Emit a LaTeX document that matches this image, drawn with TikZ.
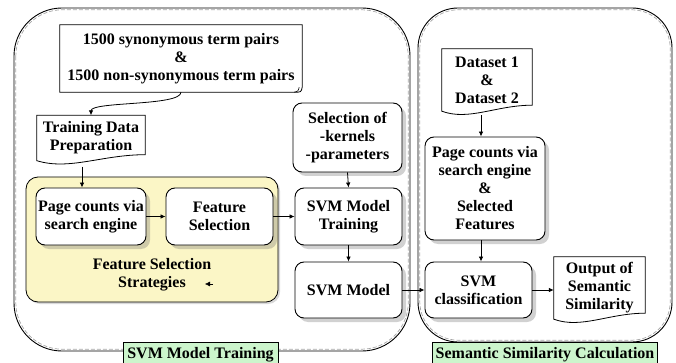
\documentclass[tikz,border=0pt]{standalone}
\usepackage{fontspec}
\setmainfont{Liberation Serif}
\usetikzlibrary{shadows,calc,arrows.meta}
\definecolor{yfill}{RGB}{251,246,198}
\definecolor{gfill}{RGB}{204,245,204}
\begin{document}
\begin{tikzpicture}[x=1pt,y=-1pt,
  font=\fontsize{16}{18}\selectfont\bfseries,
  rbox/.style={draw, line width=0.9pt, rounded corners=9pt, fill=white, align=center, inner sep=1pt,
    drop shadow={shadow xshift=4pt, shadow yshift=-4pt, opacity=0.3, fill=black!60}},
  docnode/.style={align=center, inner sep=1pt},
  docline/.style={draw, line width=0.8pt},
  conn/.style={line width=0.8pt, -{Latex[length=5pt,width=4.5pt]}},
  regionL/.style={draw, line width=0.9pt, rounded corners=48pt},
  regionLd/.style={draw, gray!70, line width=0.7pt, dash pattern=on 4pt off 2pt, rounded corners=46.5pt},
  regionR/.style={draw, line width=0.9pt, rounded corners=40pt},
  regionRd/.style={draw, gray!70, line width=0.7pt, dash pattern=on 4pt off 2pt, rounded corners=38.5pt},
  tag/.style={draw, line width=0.8pt, fill=gfill, anchor=north, minimum height=24pt, inner xsep=3pt}
]
\useasboundingbox (0,0) rectangle (676,363);

% outer regions
\draw[regionL] (14,8) rectangle (410,351);
\draw[regionLd] (15.8,9.8) rectangle (408.2,349.2);
\draw[regionR] (418,8) rectangle (672,342);
\draw[regionRd] (419.8,9.8) rectangle (670.2,340.2);

% yellow region
\node[draw, line width=0.8pt, fill=yfill, rounded corners=12pt, minimum width=252pt, minimum height=125pt,
  drop shadow={shadow xshift=2pt, shadow yshift=-2pt, opacity=0.25, fill=black!60}] (fss) at (152,239.5) {};
\node[align=center] (fsslabel) at (152,275) {Feature Selection\\Strategies};
\coordinate (tipA) at (213,284);
\coordinate (tipB) at (205,284);
\draw[line width=0.5pt, -{Latex[length=5pt,width=5pt]}] (tipA) -- (tipB);

% left document nodes
\node[docnode, minimum width=242pt, minimum height=67pt] (doc1) at (181,58.5)
  {1500 synonymous term pairs\\\&\\1500 non-synonymous term pairs};
\draw[docline] (doc1.north west) -- (doc1.north east) -- ($(doc1.south east)+(0,-5)$)
  .. controls ($(doc1.south east)+(-1,0)$) .. ($(doc1.south east)+(-8,0)$) -- (doc1.south west) -- cycle;
\draw[line width=0.6pt] ($(doc1.south east)+(-8,0)$) .. controls ($(doc1.south east)+(-4,-1)$) .. ($(doc1.south east)+(-3,-5)$);

\node[docnode, minimum width=108pt, minimum height=45pt] (tdp) at (91,138) {Training Data\\Preparation};
\draw[docline] (tdp.north west) -- (tdp.north east) -- ($(tdp.south east)+(0,-6)$)
  .. controls ($(tdp.south east)!0.4!(tdp.south west)+(0,-6)$) and ($(tdp.south east)!0.7!(tdp.south west)+(0,10)$)
  .. (tdp.south west) -- cycle;

% left process boxes
\node[rbox, minimum width=109pt, minimum height=69pt] (sel) at (347.5,137.5) {Selection of\\-kernels\\-parameters};
\node[rbox, minimum width=110pt, minimum height=57pt] (pc1) at (91,216.5) {Page counts via\\search engine};
\node[rbox, minimum width=107pt, minimum height=57pt] (fs) at (219.5,216.5) {Feature\\Selection};
\node[rbox, minimum width=107pt, minimum height=57pt] (smt) at (348.5,216.5) {SVM Model\\Training};
\node[rbox, minimum width=107pt, minimum height=56pt] (sm) at (348.5,290) {SVM Model};

% right side
\node[docnode, minimum width=90pt, minimum height=62pt] (ds) at (487,80) {Dataset 1\\\&\\Dataset 2};
\draw[docline] (ds.north west) -- (ds.north east) -- ($(ds.south east)+(0,-6)$)
  .. controls ($(ds.south east)!0.4!(ds.south west)+(0,-6)$) and ($(ds.south east)!0.7!(ds.south west)+(0,10)$)
  .. (ds.south west) -- cycle;
\node[rbox, minimum width=120pt, minimum height=103pt] (pc2) at (485,188.5)
  {Page counts via\\search engine\\\&\\Selected\\Features};
\node[rbox, minimum width=107pt, minimum height=56pt] (svmc) at (478.5,290) {SVM\\classification};
\node[docnode, minimum width=91pt, minimum height=62pt] (out) at (599.5,288) {Output of\\Semantic\\Similarity};
\draw[docline] (out.north west) -- (out.north east) -- ($(out.south east)+(0,-6)$)
  .. controls ($(out.south east)!0.4!(out.south west)+(0,-6)$) and ($(out.south east)!0.7!(out.south west)+(0,10)$)
  .. (out.south west) -- cycle;

% connectors
\draw[conn] (doc1.south) .. controls +(0,14) and +(0,-14) .. (tdp.north);
\draw[conn] ([xshift=-9pt,yshift=-6pt]tdp.south) -- ([xshift=-9pt]pc1.north);
\draw[conn] (pc1.east) -- (fs.west);
\draw[conn] (fs.east) -- (smt.west);
\draw[conn] (sel.south) -- (smt.north);
\draw[conn] (smt.south) -- (sm.north);
\draw[conn] (sm.east) -- (svmc.west);
\draw[conn] ([xshift=-6pt,yshift=-4pt]ds.south) -- ([xshift=-4pt]pc2.north);
\draw[conn] ([xshift=-4pt]pc2.south) -- ([xshift=2.5pt]svmc.north);
\draw[conn] (svmc.east) -- (svmc.east -| out.west);

% tags
\node[tag, minimum width=155pt] (tagL) at (200.5,342) {SVM Model Training};
\node[tag, minimum width=224pt] (tagR) at (545,342) {Semantic Similarity Calculation};
\end{tikzpicture}
\end{document}
